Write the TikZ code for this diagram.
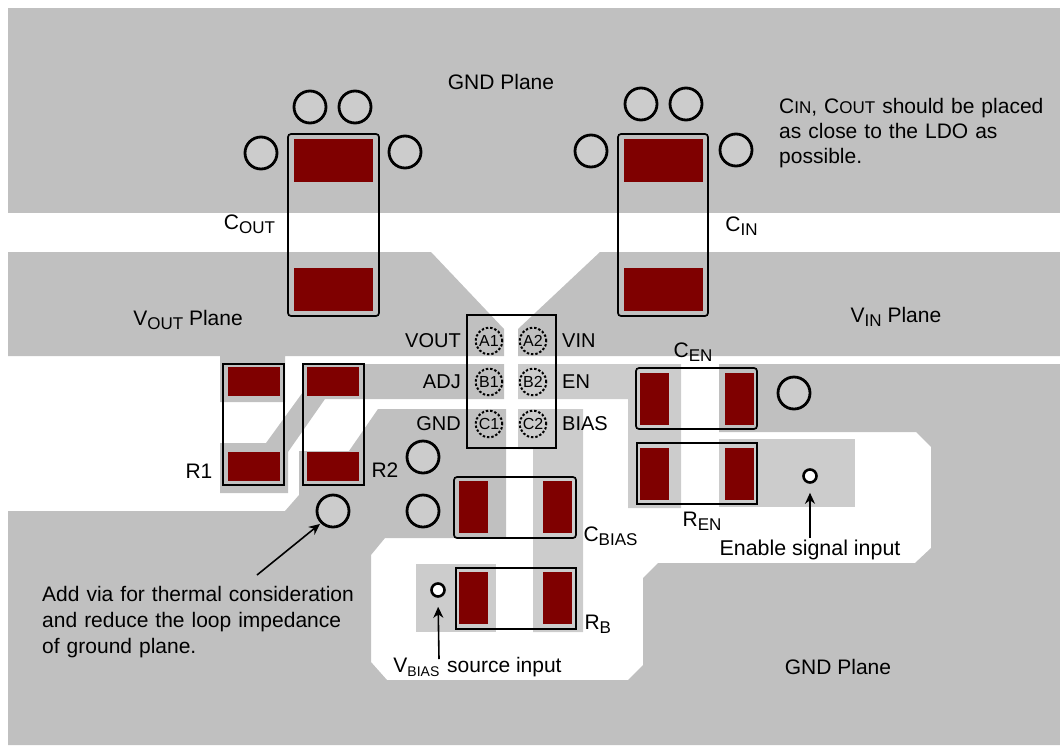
\documentclass[tikz,border=0pt]{standalone}
\usepackage{fontspec}
\setmainfont{Liberation Sans}
\usetikzlibrary{arrows.meta, positioning}
\definecolor{plane}{RGB}{192,192,192}
\definecolor{trace}{RGB}{204,204,204}
\definecolor{copper}{RGB}{127,0,0}
\newcommand{\lowtxt}[1]{\raisebox{-0.22em}{\fontsize{17}{20}\selectfont #1}}
\newcommand{\lowsmalltxt}[1]{\raisebox{-0.22em}{\fontsize{14}{20}\selectfont #1}}
\newcommand{\smalltxt}[1]{{\fontsize{17}{20}\selectfont #1}}

\begin{document}
\begin{tikzpicture}[x=1pt, y=-1pt]
% TikZ styles
\tikzset{
  padwide/.style={rectangle, fill=copper, inner sep=0pt, minimum width=79pt, minimum height=43pt},
  padsmall/.style={rectangle, fill=copper, inner sep=0pt, minimum width=52pt, minimum height=29pt},
  padtall/.style={rectangle, fill=copper, inner sep=0pt, minimum width=29pt, minimum height=52pt},
  partbox/.style={rectangle, draw=black, line width=1.7pt, inner sep=0pt},
  capbox/.style={partbox, rounded corners=3pt},
  via/.style={circle, draw=black, fill=trace, line width=2.8pt, inner sep=0pt, minimum size=32pt},
  testvia/.style={circle, draw=black, fill=white, line width=2.6pt, inner sep=0pt, minimum size=13pt},
  ball/.style={circle, draw=black, dash pattern=on 2.4pt off 1.9pt, line width=2pt, inner sep=0pt, minimum size=26.5pt, font=\fontsize{16}{16}\selectfont},
  txt/.style={anchor=base, font=\fontsize{21}{24}\selectfont},
  pinname/.style={txt, font=\fontsize{20}{24}\selectfont},
  arrow/.style={-{Stealth[length=11pt, width=10pt]}, line width=1.6pt}
};
\useasboundingbox (0,0) rectangle (1060,745);

%==========================
% Planes and traces
%==========================
\fill[plane] (8,8) rectangle (1060,213);
\fill[plane] (8,252) -- (431,252) -- (504,329) -- (504,356) -- (285,356) -- (285,402) -- (220,402) -- (220,356) -- (8,356) -- cycle;
\fill[plane] (600,252) -- (1060,252) -- (1060,356) -- (518,356) -- (518,329) -- cycle;
\fill[plane] (504,364) -- (303,364) -- (303,392) -- (266,443) -- (220,443) -- (220,493) -- (288,493) -- (288,452) -- (325,399) -- (504,399) -- cycle;
\fill[plane] (8,511) -- (285,511) -- (299,495) -- (299,451) -- (349,451) -- (378,409) -- (506,409) -- (506,538) -- (385,538) -- (371,555) -- (371,662) -- (387,680) -- (628,680) -- (643,665) -- (643,578) -- (658,563) -- (915,563) -- (931,548) -- (931,447) -- (916,432) -- (719,432) -- (719,364) -- (1060,364) -- (1060,745) -- (8,745) -- cycle;

\fill[trace] (518,364) -- (681,364) -- (681,508) -- (628,508) -- (628,399) -- (518,399) -- cycle;
\fill[trace] (719,439) rectangle (855,507);
\fill[trace] (518,409) -- (583,409) -- (583,632) -- (533,632) -- (533,449) -- (518,449) -- cycle;
\fill[trace] (416,564) rectangle (496,632);

%==========================
% Pads
%==========================
\node[padwide] (coutA) at (333.5,160.5) {};
\node[padwide] (coutB) at (333.5,289.5) {};
\node[padwide] (cinA) at (663,160.5) {};
\node[padwide] (cinB) at (663,289.5) {};

\node[padsmall] (roneA) at (254,381.5) {};
\node[padsmall] (roneB) at (254,466.5) {};
\node[padsmall] (rtwoA) at (333,381.5) {};
\node[padsmall] (rtwoB) at (333,466.5) {};

\node[padtall] (cenA) at (654.5,398.5) {};
\node[padtall] (cenB) at (739.5,398.5) {};
\node[padtall] (renA) at (654.5,474) {};
\node[padtall] (renB) at (739.5,474) {};

\node[padtall] (cbiasA) at (473.5,507) {};
\node[padtall] (cbiasB) at (557.5,507) {};
\node[padtall] (rbA) at (473.5,598) {};
\node[padtall] (rbB) at (557.5,598) {};

%==========================
% Part outlines
%==========================
\node[capbox, minimum width=91pt, minimum height=182pt] (cout) at (333.5,225) {};
\node[capbox, minimum width=90pt, minimum height=182pt] (cin) at (663,225) {};
\node[partbox, minimum width=61pt, minimum height=121pt] (rone) at (253.5,424.5) {};
\node[partbox, minimum width=61pt, minimum height=121pt] (rtwo) at (333.5,424.5) {};
\node[partbox, minimum width=89pt, minimum height=133pt] (ldo) at (511.5,381.5) {};
\node[capbox, minimum width=121pt, minimum height=61pt] (cen) at (696.5,398.5) {};
\node[partbox, minimum width=120pt, minimum height=61pt] (ren) at (697,473.5) {};
\node[capbox, minimum width=122pt, minimum height=61pt] (cbias) at (515,507.5) {};
\node[partbox, minimum width=120pt, minimum height=61pt] (rb) at (516,598.5) {};

%==========================
% Vias
%==========================
\node[via] (viaA) at (310,107) {};
\node[via] (viaB) at (355,107) {};
\node[via] (viaC) at (261,153) {};
\node[via] (viaD) at (405,152) {};
\node[via] (viaE) at (641,104) {};
\node[via] (viaF) at (686,104) {};
\node[via] (viaG) at (591,151) {};
\node[via] (viaH) at (736,150) {};
\node[via] (viaI) at (794,393) {};
\node[via] (viaJ) at (423,457) {};
\node[via] (viaK) at (423,511) {};
\node[via] (viaL) at (333,511) {};
\node[testvia] (envia) at (810,476) {};
\node[testvia] (biasvia) at (438,590) {};

\node[ball] (A1) at (489,341) {A1};
\node[ball] (A2) at (533,341) {A2};
\node[ball] (B1) at (489,382) {B1};
\node[ball] (B2) at (533,382) {B2};
\node[ball] (C1) at (489,424) {C1};
\node[ball] (C2) at (533,424) {C2};

%==========================
% Texts
%==========================
\node[txt] (gndtop) at (501,89) {GND Plane};
\node[txt] (gndbottom) at (838,674) {GND Plane};
\node[txt] (voutplane) at (188,325) {V\lowtxt{OUT} Plane};
\node[txt] (vinplane) at (896,322) {V\lowtxt{IN} Plane};
\node[txt, anchor=north west, align=left, text width=290pt] (placenote) at (775.7,95) {C\smalltxt{IN}, C\smalltxt{OUT} should be placed\\[1pt]as close to the LDO as\\[1pt]possible.};
\node[txt] (coutname) at (249.5,229) {C\lowtxt{OUT}};
\node[txt] (cinname) at (741.5,231) {C\lowtxt{IN}};
\node[pinname, anchor=base east] (voutname) at (464.3,347) {VOUT};
\node[pinname, anchor=base east] (adjname) at (464.3,388) {ADJ};
\node[pinname, anchor=base east] (gndname) at (464.3,430) {GND};
\node[pinname, anchor=base west] (vinname) at (558.7,347) {VIN};
\node[pinname, anchor=base west] (enname) at (558.7,388) {EN};
\node[pinname, anchor=base west] (biasname) at (558.7,430) {BIAS};
\node[txt] (cenname) at (693,357) {C\lowtxt{EN}};
\node[txt] (renname) at (702,526) {R\lowtxt{EN}};
\node[txt] (ronename) at (199,478) {R1};
\node[txt] (rtwoname) at (385,477) {R2};
\node[txt, anchor=base west] (cbiasname) at (580,541) {C\lowtxt{BIAS}};
\node[txt, anchor=base west] (rbname) at (581,629) {R\lowtxt{B}};
\node[txt, font=\fontsize{21.4}{24}\selectfont] (enlabel) at (810,555) {Enable signal input};
\node[txt] (biaslabel) at (477.5,672) {V\lowsmalltxt{BIAS}\hspace{2pt} source input};
\node[txt, anchor=north west, align=left, text width=330pt] (thermalnote) at (38.7,583) {Add via for thermal consideration\\[2pt]and reduce the loop impedance\\[2pt]of ground plane.};

%==========================
% Arrows
%==========================
\coordinate (entail) at (810,538);
\coordinate (biastail) at (439,659);
\coordinate (thermaltail) at (257,575);
\draw[arrow, shorten >=9pt] (entail) -- (envia.south);
\draw[arrow, shorten >=9pt] (biastail) -- (biasvia.south);
\draw[arrow, shorten >=1pt] (thermaltail) -- (viaL.225);

\end{tikzpicture}
\end{document}
